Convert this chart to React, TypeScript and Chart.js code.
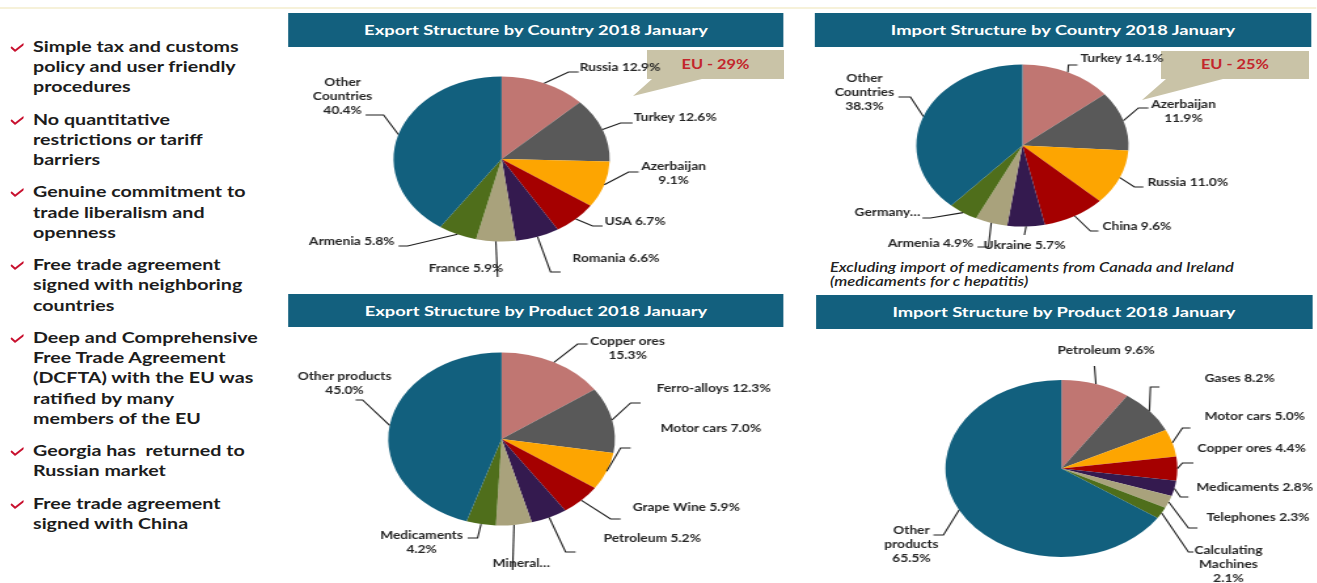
import React, { useEffect, useRef } from "react";
import { Chart, registerables } from "chart.js";

Chart.register(...registerables);

// The slide is stretched horizontally; everything is laid out in real pixels and converted.
const S = 1.31;
const PAGE_W = 1317;
const PAGE_H = 583;

// ---------- data ----------
const exportCountryLabels = ["Russia", "Turkey", "Azerbaijan", "USA", "Romania", "France", "Armenia", "Other Countries"];
const exportCountryValues = [12.9, 12.6, 9.1, 6.7, 6.6, 5.9, 5.8, 40.4];

const importCountryLabels = ["Turkey", "Azerbaijan", "Russia", "China", "Ukraine", "Armenia", "Germany", "Other Countries"];
const importCountryValues = [14.1, 11.9, 11.0, 9.6, 5.7, 4.9, 4.5, 38.3];

const exportProductLabels = ["Copper ores", "Ferro-alloys", "Motor cars", "Grape Wine", "Petroleum", "Mineral waters", "Medicaments", "Other products"];
const exportProductValues = [15.3, 12.3, 7.0, 5.9, 5.2, 5.1, 4.2, 45.0];

const importProductLabels = ["Petroleum", "Gases", "Motor cars", "Copper ores", "Medicaments", "Telephones", "Calculating Machines", "Other products"];
const importProductValues = [9.6, 8.2, 5.0, 4.4, 2.8, 2.3, 2.1, 65.5];

const titles = [
  "Export Structure by Country 2018 January",
  "Import Structure by Country 2018 January",
  "Export Structure by Product 2018 January",
  "Import Structure by Product 2018 January",
];

const euExport = "EU - 29%";
const euImport = "EU - 25%";

const bullets = [
  ["Simple tax and customs", "policy and user friendly", "procedures"],
  ["No quantitative", "restrictions or tariff", "barriers"],
  ["Genuine commitment to", "trade liberalism and", "openness"],
  ["Free trade agreement", "signed with neighboring", "countries"],
  ["Deep and Comprehensive", "Free Trade Agreement", "(DCFTA) with the EU was", "ratified by many", "members of the EU"],
  ["Georgia has  returned to", "Russian market"],
  ["Free trade agreement", "signed with China"],
];

const noteLines = ["Excluding import of medicaments from Canada and Ireland", "(medicaments for c hepatitis)"];

// ---------- styles ----------
const SLICE_COLORS = ["#c07672", "#595959", "#fda501", "#a50000", "#341a4f", "#a9a27c", "#4f6e1b", "#12607e"];
const HEADER_BG = "#13607e";
const LABEL_FONT = "bold 10.5px Lato, 'Open Sans', sans-serif";
const LABEL_COLOR = "#262626";
const LABEL_LH = 14;

type Spec = { e: [number, number]; t: [number, number]; p: [number, number]; a: CanvasTextAlign; lines: string[] };

// label layout: offsets (real px) from pie centre: elbow, end of leader, text anchor
const exportCountrySpecs: Spec[] = [
  { e: [67, -87], t: [77, -87], p: [78, -91], a: "left", lines: ["%n %v"] },
  { e: [119, -36], t: [131, -36], p: [132, -41], a: "left", lines: ["%n %v"] },
  { e: [127, 13], t: [137, 13], p: [172, 8], a: "center", lines: ["%n", "%v"] },
  { e: [91, 67], t: [101, 67], p: [103, 63], a: "left", lines: ["%n %v"] },
  { e: [49, 113], t: [59, 113], p: [71, 100], a: "left", lines: ["%n %v"] },
  { e: [-4, 118], t: [-4, 118], p: [-73, 110], a: "left", lines: ["%n %v"] },
  { e: [-94, 87], t: [-103, 87], p: [-107, 83], a: "right", lines: ["%n %v"] },
  { e: [-118, -44], t: [-136, -44], p: [-159, -76], a: "center", lines: ["Other", "Countries", "%v"] },
];

const importCountrySpecs: Spec[] = [
  { e: [46, -80.5], t: [55, -80.5], p: [58, -86.5], a: "left", lines: ["%n %v"] },
  { e: [116, -37.5], t: [126, -37.5], p: [161, -40.5], a: "center", lines: ["%n", "%v"] },
  { e: [112, 41.5], t: [121, 41.5], p: [125, 37.5], a: "left", lines: ["%n %v"] },
  { e: [68, 85.5], t: [76, 85.5], p: [80, 81.5], a: "left", lines: ["%n %v"] },
  { e: [2, 89.5], t: [2, 89.5], p: [2, 100.5], a: "center", lines: ["%n %v"] },
  { e: [-34, 101.5], t: [-45, 101.5], p: [-49, 98.5], a: "right", lines: ["%n %v"] },
  { e: [-92, 72.5], t: [-100, 72.5], p: [-102, 67.5], a: "right", lines: ["Germany…"] },
  { e: [-112, -48.5], t: [-124, -48.5], p: [-158, -66.5], a: "center", lines: ["Other", "Countries", "%v"] },
];

const exportProductSpecs: Spec[] = [
  { e: [76, -95], t: [86, -95], p: [126, -97], a: "center", lines: ["%n", "%v"] },
  { e: [129, -36], t: [139, -36], p: [155, -50], a: "left", lines: ["%n %v"] },
  { e: [119, 9], t: [129, 9], p: [159, -10], a: "left", lines: ["%n %v"] },
  { e: [109, 80], t: [119, 80], p: [131, 69], a: "left", lines: ["%n %v"] },
  { e: [64, 113], t: [74, 113], p: [102, 100], a: "left", lines: ["%n %v"] },
  { e: [11, 131], t: [11, 131], p: [-9, 125], a: "left", lines: ["Mineral…"] },
  { e: [-24, 99], t: [-34, 99], p: [-80, 97], a: "center", lines: ["%n", "%v"] },
  { e: [-139, -39], t: [-146, -39], p: [-157, -62], a: "center", lines: ["%n", "%v"] },
];

const importProductSpecs: Spec[] = [
  { e: [33, -102.5], t: [33, -102.5], p: [-4, -117.5], a: "left", lines: ["%n %v"] },
  { e: [89, -81.5], t: [98, -81.5], p: [143, -89.5], a: "left", lines: ["%n %v"] },
  { e: [121, -40.5], t: [129, -40.5], p: [143, -51.5], a: "left", lines: ["%n %v"] },
  { e: [121, -5.5], t: [132, -5.5], p: [136, -19.5], a: "left", lines: ["%n %v"] },
  { e: [119, 28.5], t: [127, 28.5], p: [135, 19.5], a: "left", lines: ["%n %v"] },
  { e: [127, 59.5], t: [136, 59.5], p: [145, 49.5], a: "left", lines: ["%n %v"] },
  { e: [127, 83.5], t: [132, 83.5], p: [167, 82.5], a: "center", lines: ["Calculating", "Machines", "%v"] },
  { e: [-118, 66.5], t: [-128, 66.5], p: [-150, 62.5], a: "center", lines: ["Other", "products", "%v"] },
];

type ChartDef = { box: [number, number, number, number]; center: [number, number]; r: number; labels: string[]; values: number[]; specs: Spec[] };

const CHARTS: ChartDef[] = [
  { box: [285, 48, 515, 242], center: [501, 159], r: 82.5, labels: exportCountryLabels, values: exportCountryValues, specs: exportCountrySpecs },
  { box: [800, 48, 517, 242], center: [1022, 145.5], r: 81, labels: importCountryLabels, values: importCountryValues, specs: importCountrySpecs },
  { box: [285, 330, 515, 253], center: [501, 439], r: 86.5, labels: exportProductLabels, values: exportProductValues, specs: exportProductSpecs },
  { box: [800, 330, 517, 253], center: [1061, 468.5], r: 88.5, labels: importProductLabels, values: importProductValues, specs: importProductSpecs },
];

const HEADERS: [number, number, number, number][] = [
  [288, 13, 496, 34],
  [815, 13, 496, 34],
  [288, 294, 496, 33],
  [816, 295, 496, 34],
];

const leaderPlugin = {
  id: "leaders",
  afterDatasetsDraw(chart: any, _args: any, opts: any) {
    const specs: Spec[] = opts.specs || [];
    const values = chart.data.datasets[0].data as number[];
    const names = chart.data.labels as string[];
    const meta = chart.getDatasetMeta(0);
    const ctx: CanvasRenderingContext2D = chart.ctx;
    ctx.save();
    ctx.strokeStyle = "#1e1e1e";
    ctx.lineWidth = 1.1;
    ctx.fillStyle = LABEL_COLOR;
    ctx.font = LABEL_FONT;
    ctx.textBaseline = "middle";
    meta.data.forEach((arc: any, i: number) => {
      const sp = specs[i];
      if (!sp) return;
      const { x, y, startAngle, endAngle, outerRadius } = arc.getProps(["x", "y", "startAngle", "endAngle", "outerRadius"], true);
      const mid = (startAngle + endAngle) / 2;
      const sx = x + Math.cos(mid) * outerRadius;
      const sy = y + Math.sin(mid) * outerRadius;
      ctx.beginPath();
      ctx.moveTo(sx, sy);
      ctx.lineTo(x + sp.e[0] / S, y + sp.e[1]);
      ctx.lineTo(x + sp.t[0] / S, y + sp.t[1]);
      ctx.stroke();
      ctx.textAlign = sp.a;
      sp.lines.forEach((ln, k) => {
        const txt = ln.replace("%n", names[i]).replace("%v", values[i].toFixed(1) + "%");
        ctx.fillText(txt, x + sp.p[0] / S, y + sp.p[1] + k * LABEL_LH);
      });
    });
    ctx.restore();
  },
};

export default function App() {
  const refs = useRef<(HTMLCanvasElement | null)[]>([]);

  useEffect(() => {
    document.body.style.margin = "0";
    document.body.style.overflow = "hidden";
    const instances = CHARTS.map((c, i) => {
      const canvas = refs.current[i] as HTMLCanvasElement;
      const [bx, by, bw, bh] = c.box;
      const Wu = Math.round(bw / S);
      const cxu = (c.center[0] - bx) / S;
      const cyu = c.center[1] - by;
      return new Chart(canvas, {
        type: "pie",
        data: {
          labels: c.labels,
          datasets: [{ data: c.values, backgroundColor: SLICE_COLORS, borderWidth: 0, radius: c.r } as any],
        },
        options: {
          responsive: false,
          animation: false,
          events: [],
          layout: { padding: { left: cxu - c.r, right: Wu - cxu - c.r, top: cyu - c.r, bottom: bh - cyu - c.r } },
          plugins: {
            legend: { display: false },
            tooltip: { enabled: false },
            leaders: { specs: c.specs },
          } as any,
        },
        plugins: [leaderPlugin],
      });
    });
    return () => instances.forEach((ch) => ch.destroy());
  }, []);

  const u = (x: number) => x / S;

  return (
    <div
      style={{
        position: "absolute",
        left: 0,
        top: 0,
        width: u(PAGE_W),
        height: PAGE_H,
        transform: `scaleX(${S})`,
        transformOrigin: "0 0",
        background: "#ffffff",
        overflow: "hidden",
        fontFamily: "Lato, 'Open Sans', sans-serif",
      }}
    >
      <div style={{ position: "absolute", left: 0, top: 7, width: u(PAGE_W), height: 2, background: "#f6f1d9" }} />

      {/* bullets */}
      <div style={{ position: "absolute", left: 0, top: 35.8, width: u(285) }}>
        {bullets.map((lines, i) => (
          <div key={i} style={{ position: "relative", marginBottom: 12, paddingLeft: u(33) }}>
            <svg
              style={{ position: "absolute", left: u(10), top: 7 }}
              width={u(14)}
              height={9}
              viewBox="0 0 14 9"
              preserveAspectRatio="none"
            >
              <polyline points="1,4.6 4.6,7.8 13,1.2" fill="none" stroke="#c8102e" strokeWidth={2} strokeLinejoin="round" strokeLinecap="round" />
            </svg>
            {lines.map((ln, k) => (
              <div key={k} style={{ fontWeight: 700, fontSize: 15, lineHeight: "20.25px", color: "#1c1c1c", whiteSpace: "pre" }}>
                {ln}
              </div>
            ))}
          </div>
        ))}
      </div>

      {/* headers */}
      {HEADERS.map(([x, y, w, h], i) => (
        <div
          key={i}
          style={{
            position: "absolute",
            left: u(x),
            top: y,
            width: u(w),
            height: h,
            background: HEADER_BG,
            color: "#ffffff",
            fontWeight: 700,
            fontSize: 14,
            lineHeight: `${h}px`,
            textAlign: "center",
            whiteSpace: "nowrap",
          }}
        >
          {titles[i]}
        </div>
      ))}

      {/* EU callouts */}
      <svg
        style={{ position: "absolute", left: 0, top: 0 }}
        width={u(PAGE_W)}
        height={PAGE_H}
        viewBox={`0 0 ${PAGE_W} ${PAGE_H}`}
        preserveAspectRatio="none"
      >
        <polygon points="647,50 784,50 784,79 702,79 633,96 652,79 647,79" fill="#c9c3a7" />
        <polygon points="1161,51 1309,51 1309,79 1223,79 1142,100 1166,79 1161,79" fill="#c9c3a7" />
      </svg>
      {[
        [647, 137, euExport],
        [1161, 148, euImport],
      ].map(([x, w, t], i) => (
        <div
          key={i}
          style={{
            position: "absolute",
            left: u(x as number),
            top: 51,
            width: u(w as number),
            height: 28,
            lineHeight: "27px",
            textAlign: "center",
            color: "#c3262c",
            fontWeight: 700,
            fontSize: 12.5,
          }}
        >
          {t}
        </div>
      ))}

      {/* note */}
      <div style={{ position: "absolute", left: u(830), top: 261, fontStyle: "italic", fontWeight: 600, fontSize: 12.6, lineHeight: "14px", color: "#222" }}>
        {noteLines.map((l, i) => (
          <div key={i} style={{ whiteSpace: "nowrap" }}>
            {l}
          </div>
        ))}
      </div>

      {/* charts */}
      {CHARTS.map((c, i) => (
        <canvas
          key={i}
          ref={(el) => {
            refs.current[i] = el;
          }}
          width={Math.round(c.box[2] / S)}
          height={c.box[3]}
          style={{ position: "absolute", left: u(c.box[0]), top: c.box[1], width: Math.round(c.box[2] / S), height: c.box[3] }}
        />
      ))}
    </div>
  );
}
